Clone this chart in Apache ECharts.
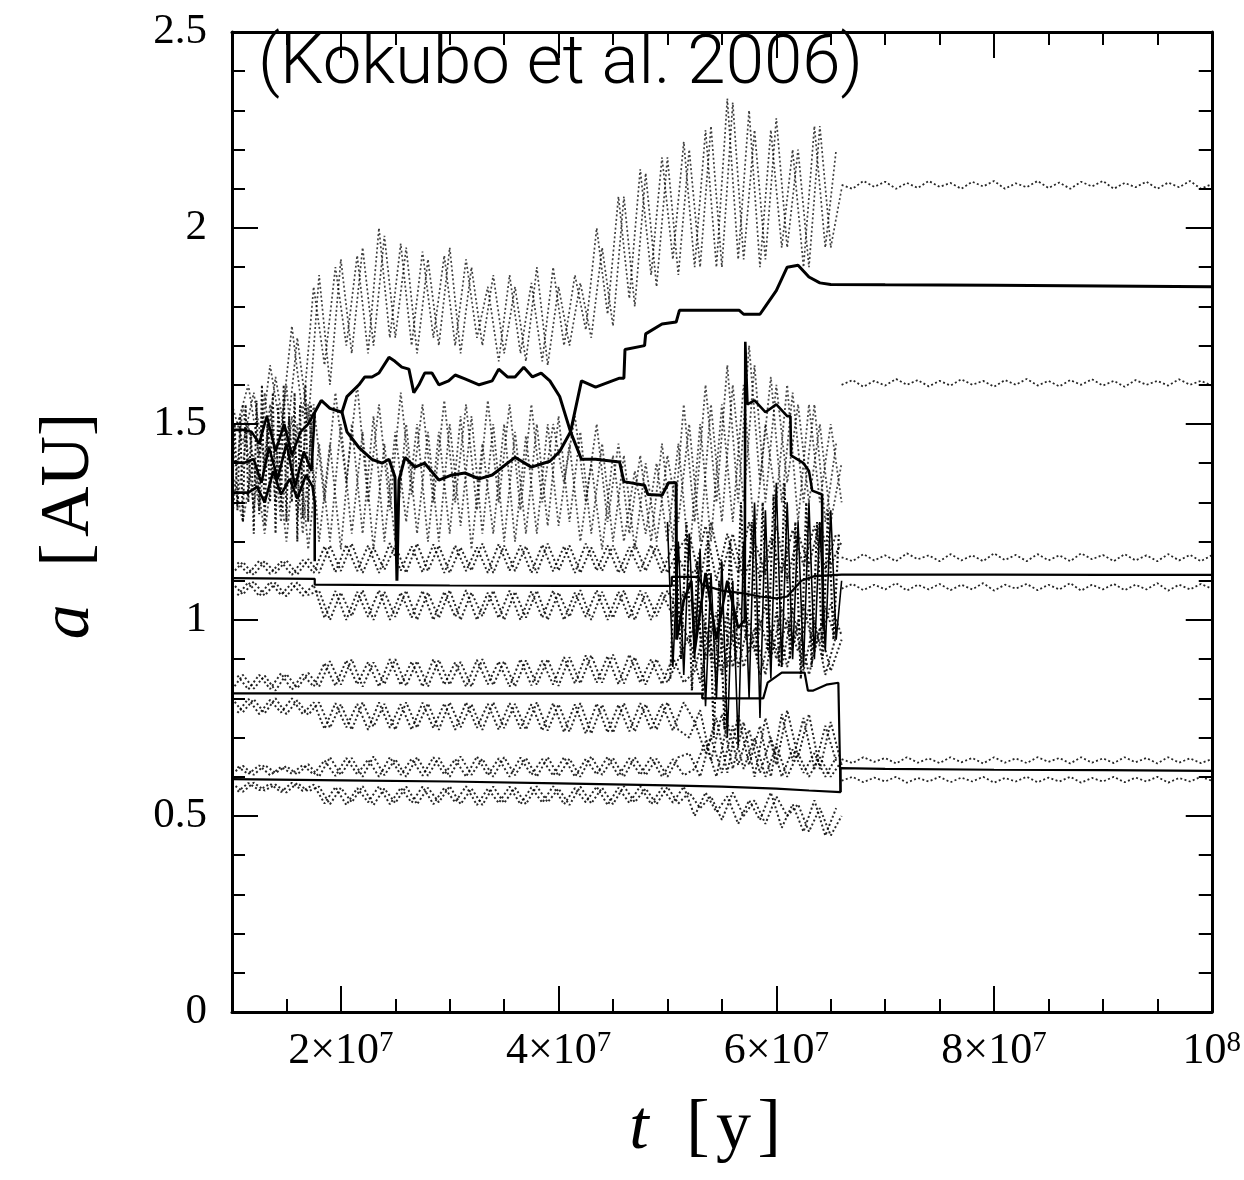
<!DOCTYPE html>
<html>
<head>
<meta charset="utf-8">
<script src="https://cdn.jsdelivr.net/npm/echarts@6/dist/echarts.min.js"></script>
<style>
html,body{margin:0;padding:0;background:#fff;}
#chart{width:1244px;height:1180px;}
</style>
</head>
<body>
<div id="chart"></div>
<script>
// Time grids in Myr (axis labels are written in years)
const tGrid = [10,11,12,13,14,15,16,17,18,19,20,21,22,23,24,25,26,27,28,29,30,31,32,33,34,35,36,37,38,39,40,41,42,43,44,45,46,47,48,49,50,51,52,53,54,55,56,57,58,59,60,61,62,63,64,65,66];
const tGridHalf = [10.5,11.5,12.5,13.5,14.5,15.5,16.5,17.5,18.5,19.5,20.5,21.5,22.5,23.5,24.5,25.5,26.5,27.5,28.5,29.5,30.5,31.5,32.5,33.5,34.5,35.5,36.5,37.5,38.5,39.5,40.5,41.5,42.5,43.5,44.5,45.5,46.5,47.5,48.5,49.5,50.5,51.5,52.5,53.5,54.5,55.5,56.5,57.5,58.5,59.5,60.5,61.5,62.5,63.5,64.5,65.5];
const tLate = [66,67,68,69,70,71,72,73,74,75,76,77,78,79,80,81,82,83,84,85,86,87,88,89,90,91,92,93,94,95,96,97,98,99,100];
const tChaos = [50,50.5,51,51.5,52,52.5,53,53.5,54,54.5,55,55.5,56,56.5,57,57.5,58,58.5,59,59.5,60,60.5,61,61.5,62,62.5,63,63.5,64,64.5,65,65.5,66];
const tChaosB = [50.25,50.75,51.25,51.75,52.25,52.75,53.25,53.75,54.25,54.75,55.25,55.75,56.25,56.75,57.25,57.75,58.25,58.75,59.25,59.75,60.25,60.75,61.25,61.75,62.25,62.75,63.25,63.75,64.25,64.75,65.25,65.75];
const tEarlyFine = [10,10.25,10.5,10.75,11,11.25,11.5,11.75,12,12.25,12.5,12.75,13,13.25,13.5,13.75,14,14.25,14.5,14.75,15,15.25,15.5,15.75,16,16.25,16.5,16.75,17,17.25,17.5];

// Pericentre / apocentre traces (dotted), before the last collision
const apoInner = [0.608,0.628,0.605,0.63,0.61,0.627,0.606,0.632,
  0.6,0.65,0.605,0.648,0.6,0.652,0.604,0.645,0.6,0.65,
  0.603,0.648,0.6,0.652,0.605,0.646,0.6,0.65,0.604,0.648,
  0.6,0.65,0.602,0.646,0.6,0.652,0.605,0.648,0.6,0.65,
  0.604,0.646,0.6,0.65,
  0.66,0.6,0.7,0.61,0.73,0.62,0.7,0.6,0.68,0.6,0.66,0.6,0.65,0.6,0.64];
const apoInnerH = [0.626,0.607,0.629,0.604,0.625,0.608,0.63,0.606,
  0.642,0.602,0.648,0.606,0.644,0.6,0.65,0.605,0.646,0.603,
  0.65,0.606,0.645,0.6,0.652,0.604,0.647,0.6,0.649,0.605,
  0.645,0.603,0.65,0.6,0.646,0.606,0.651,0.602,0.647,0.605,
  0.65,0.6,0.645,0.604,
  0.62,0.69,0.6,0.74,0.63,0.72,0.61,0.7,0.6,0.67,0.61,0.66,0.6,0.65];
const periInner = [0.583,0.562,0.585,0.565,0.58,0.56,0.584,0.563,
  0.575,0.53,0.572,0.535,0.576,0.528,0.57,0.533,0.575,0.53,
  0.572,0.535,0.576,0.53,0.57,0.528,0.575,0.533,0.572,0.53,
  0.576,0.535,0.57,0.528,0.575,0.532,0.572,0.53,0.576,0.535,
  0.57,0.53,0.574,0.532,
  0.56,0.52,0.55,0.49,0.56,0.5,0.54,0.48,0.55,0.5,0.53,0.46,0.52,0.45,0.5];
const periInnerH = [0.562,0.584,0.566,0.582,0.561,0.585,0.564,0.58,
  0.532,0.574,0.528,0.571,0.535,0.576,0.53,0.572,0.534,0.575,
  0.53,0.572,0.535,0.576,0.528,0.57,0.533,0.575,0.53,0.573,
  0.534,0.576,0.53,0.571,0.535,0.575,0.528,0.572,0.533,0.576,
  0.53,0.571,0.534,0.575,
  0.5,0.56,0.51,0.55,0.48,0.54,0.49,0.56,0.47,0.53,0.46,0.54,0.45,0.52];
const apoSecond = [0.822,0.86,0.825,0.858,0.82,0.862,0.826,0.865,
  0.83,0.895,0.835,0.9,0.83,0.892,0.836,0.9,0.832,0.895,
  0.83,0.898,0.835,0.893,0.83,0.9,0.834,0.895,0.83,0.897,
  0.835,0.9,0.832,0.905,0.838,0.91,0.84,0.912,0.838,0.905,
  0.835,0.9,0.84,0.9,
  0.96,0.84,1.0,0.86,1.02,0.88,0.98,0.86,1.02,0.88,1.0,0.86,0.98,0.87,0.95];
const apoSecondH = [0.858,0.823,0.86,0.824,0.864,0.822,0.861,0.83,
  0.89,0.832,0.897,0.836,0.893,0.83,0.9,0.834,0.894,0.83,
  0.9,0.835,0.892,0.83,0.898,0.836,0.894,0.83,0.9,0.833,
  0.896,0.835,0.905,0.838,0.91,0.84,0.908,0.836,0.912,0.84,
  0.9,0.836,0.905,0.84,
  0.87,0.99,0.86,1.02,0.88,1.0,0.86,0.97,0.88,1.03,0.87,1.0,0.86,0.96];
const periSecond = [0.8,0.765,0.798,0.762,0.8,0.76,0.795,0.758,
  0.79,0.725,0.785,0.72,0.79,0.728,0.786,0.72,0.79,0.725,
  0.787,0.72,0.79,0.726,0.785,0.72,0.79,0.724,0.786,0.72,
  0.79,0.718,0.785,0.715,0.788,0.71,0.784,0.712,0.788,0.715,
  0.785,0.72,0.79,0.72,
  0.7,0.77,0.64,0.76,0.62,0.74,0.6,0.75,0.63,0.77,0.65,0.76,0.62,0.74,0.63];
const periSecondH = [0.763,0.799,0.76,0.796,0.764,0.8,0.76,0.79,
  0.722,0.788,0.726,0.786,0.72,0.79,0.725,0.785,0.72,0.789,
  0.724,0.787,0.72,0.79,0.725,0.786,0.72,0.788,0.723,0.785,
  0.718,0.788,0.714,0.785,0.71,0.787,0.713,0.784,0.716,0.788,
  0.72,0.786,0.718,0.79,
  0.74,0.66,0.75,0.61,0.76,0.63,0.73,0.6,0.76,0.64,0.75,0.62,0.73,0.64];
const apoThird = [1.118,1.148,1.115,1.15,1.12,1.152,1.116,1.155,
  1.12,1.19,1.125,1.195,1.12,1.185,1.128,1.19,1.12,1.195,
  1.125,1.19,1.12,1.185,1.126,1.195,1.12,1.19,1.125,1.188,
  1.12,1.195,1.126,1.19,1.12,1.185,1.125,1.19,1.12,1.195,
  1.125,1.19,1.12,1.18,
  1.22,1.1,1.25,1.12,1.22,1.1,1.2,1.12,1.24,1.1,1.22,1.14,1.25,1.14,1.2];
const apoThirdH = [1.147,1.117,1.151,1.118,1.149,1.115,1.153,1.12,
  1.188,1.122,1.192,1.125,1.19,1.12,1.196,1.126,1.188,1.122,
  1.193,1.12,1.19,1.125,1.185,1.12,1.194,1.126,1.19,1.12,
  1.192,1.124,1.188,1.12,1.195,1.126,1.19,1.12,1.186,1.125,
  1.192,1.12,1.19,1.13,
  1.12,1.24,1.1,1.22,1.12,1.25,1.1,1.21,1.12,1.23,1.14,1.24,1.13,1.22];
const periThird = [1.095,1.065,1.098,1.062,1.095,1.06,1.096,1.064,
  1.075,1.0,1.07,1.01,1.076,1.0,1.072,1.008,1.075,1.0,
  1.07,1.005,1.076,1.0,1.07,1.01,1.075,1.0,1.072,1.006,
  1.075,1.0,1.07,1.008,1.076,1.0,1.072,1.005,1.075,1.0,
  1.07,1.01,1.075,1.02,
  0.94,1.05,0.9,1.03,0.88,1.0,0.92,1.04,0.9,1.0,0.92,1.03,0.94,1.04,0.96];
const periThirdH = [1.063,1.096,1.061,1.097,1.064,1.094,1.062,1.09,
  1.005,1.074,1.0,1.072,1.008,1.076,1.0,1.07,1.006,1.075,
  1.0,1.072,1.008,1.076,1.0,1.07,1.005,1.075,1.0,1.073,
  1.006,1.075,1.0,1.07,1.008,1.076,1.0,1.072,1.005,1.075,
  1.0,1.07,1.01,1.07,
  1.04,0.9,1.02,0.88,1.05,0.92,1.0,0.9,1.03,0.93,1.04,0.92,1.03,0.95];
const apoOuterA = [1.55,1.45,1.58,1.4,1.62,1.45,1.72,1.5,1.88,1.6,
  1.92,1.68,1.95,1.7,1.98,1.72,1.95,1.68,1.92,1.7,
  1.95,1.68,1.9,1.7,1.88,1.68,1.85,1.66,1.9,1.65,
  1.85,1.7,1.86,1.72,1.95,1.75,2.08,1.8,2.14,1.85,
  2.18,1.88,2.2,1.9,2.26,1.9,2.32,1.92,2.25,1.92,
  2.28,1.95,2.2,1.9,2.26,1.95,2.1];
const apoOuterB = [1.5,1.6,1.42,1.65,1.48,1.75,1.52,1.85,1.65,1.9,
  1.7,1.93,1.68,2.0,1.72,1.96,1.7,1.94,1.72,1.93,
  1.7,1.92,1.72,1.85,1.66,1.88,1.68,1.86,1.66,1.9,
  1.7,1.88,1.74,2.0,1.78,2.08,1.82,2.15,1.88,2.18,
  1.92,2.22,1.9,2.25,1.9,2.33,1.92,2.3,1.9,2.25,
  1.95,2.2,1.9,2.26,1.95,2.2];
const midA = [1.38,1.25,1.42,1.22,1.45,1.2,1.5,1.18,1.45,1.2,
  1.5,1.22,1.48,1.18,1.45,1.2,1.5,1.22,1.48,1.2,
  1.5,1.24,1.52,1.22,1.5,1.2,1.48,1.22,1.5,1.24,
  1.52,1.25,1.48,1.22,1.45,1.2,1.42,1.18,1.4,1.2,
  1.42,1.25,1.5,1.2,1.55,1.25,1.6,1.3,1.65,1.3,
  1.6,1.35,1.55,1.3,1.5,1.25,1.4];
const midB = [1.3,1.5,1.28,1.55,1.25,1.52,1.22,1.55,1.3,1.58,
  1.35,1.6,1.3,1.55,1.28,1.58,1.32,1.55,1.3,1.56,
  1.3,1.55,1.28,1.56,1.3,1.55,1.28,1.55,1.3,1.5,
  1.35,1.52,1.3,1.5,1.25,1.45,1.22,1.42,1.2,1.45,
  1.2,1.55,1.25,1.6,1.3,1.65,1.3,1.7,1.35,1.62,
  1.3,1.58,1.3,1.55,1.25,1.45];
const midC = [1.25,1.55,1.28,1.58,1.3,1.6,1.26,1.55,
  1.2,1.45,1.18,1.5,1.22,1.52,1.2,1.48,1.25,1.5,
  1.2,1.48,1.22,1.52,1.18,1.45,1.22,1.5,1.2,1.47,
  1.22,1.5,1.24,1.45,1.2,1.4,1.18,1.42,1.2,1.38,
  1.22,1.4,1.2,1.45,
  1.15,1.5,1.2,1.55,1.25,1.6,1.2,1.5,1.3,1.6,1.25,1.55,1.3,1.5,1.3];
const earlyFine = [1.3,1.5,1.28,1.52,1.25,1.55,1.3,1.48,1.22,1.56,1.27,1.6,1.24,1.5,1.3,1.58,1.22,1.55,1.28,1.6,1.25,1.52,1.3,1.58,1.2,1.55,1.26,1.6,1.25,1.55,1.3];
const chaosTrace = [1.25,0.88,1.2,0.86,1.22,0.9,1.18,0.78,1.12,0.8,1.15,0.7,1.1,0.68,1.2,0.8,1.3,0.75,1.28,0.85,1.35,0.88,1.3,0.9,1.25,0.88,1.3,0.9,1.25,0.92,1.28,0.95,1.1];
const chaosTraceB = [0.85,1.2,0.9,1.25,0.82,1.15,0.8,1.2,0.7,1.1,0.72,1.2,0.9,1.3,0.95,1.25,0.9,1.3,0.92,1.32,0.88,1.35,0.9,1.25,0.85,1.3,0.88,1.25,0.9,1.28,0.95,1.22];

// Pericentre / apocentre traces after the last collision
const apoOutLate = [2.11,2.1,2.12,2.105,2.118,2.1,2.115,2.102,2.12,2.105,
  2.115,2.1,2.118,2.106,2.12,2.1,2.114,2.104,2.12,2.102,
  2.116,2.1,2.118,2.106,2.12,2.1,2.115,2.104,2.118,2.1,
  2.116,2.104,2.12,2.1,2.112];
const periOutLate = [1.6,1.612,1.595,1.61,1.598,1.615,1.6,1.612,1.596,1.61,
  1.598,1.614,1.6,1.61,1.595,1.612,1.6,1.615,1.598,1.61,
  1.596,1.612,1.6,1.614,1.598,1.61,1.595,1.612,1.6,1.61,
  1.598,1.614,1.6,1.61,1.598];
const apoMidLate = [1.16,1.15,1.168,1.152,1.165,1.15,1.17,1.155,1.165,1.15,
  1.168,1.152,1.165,1.15,1.17,1.153,1.166,1.15,1.168,1.152,
  1.165,1.15,1.17,1.155,1.166,1.15,1.168,1.152,1.165,1.15,
  1.168,1.152,1.166,1.15,1.165];
const periMidLate = [1.08,1.092,1.076,1.09,1.078,1.094,1.075,1.09,1.078,1.092,
  1.076,1.09,1.078,1.094,1.075,1.09,1.08,1.092,1.076,1.09,
  1.078,1.094,1.075,1.09,1.078,1.092,1.076,1.09,1.078,1.094,
  1.075,1.09,1.078,1.092,1.08];
const apoInLate = [0.645,0.635,0.65,0.638,0.648,0.634,0.65,0.636,0.647,0.635,
  0.65,0.637,0.648,0.634,0.65,0.636,0.647,0.635,0.65,0.638,
  0.648,0.634,0.65,0.636,0.647,0.635,0.65,0.637,0.648,0.634,
  0.65,0.636,0.647,0.635,0.645];
const periInLate = [0.59,0.6,0.586,0.598,0.588,0.6,0.585,0.597,0.588,0.6,
  0.586,0.598,0.588,0.6,0.585,0.597,0.588,0.6,0.586,0.598,
  0.588,0.6,0.585,0.597,0.588,0.6,0.586,0.598,0.588,0.6,
  0.585,0.597,0.588,0.6,0.59];

// Semi-major axes (solid)
const tInner = [10,20,30,40,50,55,60,63,65.9,65.9,70,80,90,100];
const aInner = [0.594,0.591,0.588,0.583,0.578,0.575,0.570,0.565,0.561,0.622,0.620,0.618,0.617,0.615];
const tSecond = [10,30,50,53.2,53.2,58.8,59.2,60.5,62.6,62.9,63.4,64.6,65.7,65.9];
const aSecond = [0.813,0.812,0.812,0.812,0.800,0.800,0.84,0.866,0.866,0.82,0.82,0.835,0.84,0.561];
const tThird = [10,17.6,17.6,30,40,50.4,50.4,52.8,53.2,55,57,58.5,60,61,62.3,63.5,66,70,80,90,100];
const aThird = [1.107,1.105,1.09,1.088,1.087,1.087,1.11,1.11,1.09,1.075,1.068,1.06,1.055,1.06,1.10,1.112,1.116,1.116,1.116,1.115,1.115];
const tEarly1 = [10,11,11.8,12.5,13.2,14,14.8,15.5,16.3,17,17.6];
const aEarly1 = [1.485,1.485,1.48,1.45,1.52,1.43,1.5,1.42,1.48,1.5,1.53];
const tEarly2 = [10,11,12,12.7,13.4,14.2,15,15.8,16.6,17.3,17.6];
const aEarly2 = [1.405,1.40,1.41,1.35,1.44,1.36,1.45,1.34,1.43,1.38,1.53];
const tEarly3 = [10,11.5,12.3,13,13.8,14.5,15.3,16,16.8,17.4,17.6,17.6];
const aEarly3 = [1.325,1.325,1.34,1.30,1.38,1.32,1.36,1.31,1.37,1.34,1.30,1.15];
const tCrossA = [17.6,18.2,19,20.1,20.56,21.66,22.2,22.86,23.5,24.42,24.97,25.6,26.25,26.7,27.17,27.7,28.37,29.0,29.9,30.5,31.4,32.7,33.9,34.5,35.3,36,36.8,37.6,38.4,39.2,40.1,41.1,42.1,43.4,45.6,46.0,47.9,48.2,49.5,50.1,50.8,50.85];
const aCrossA = [1.53,1.56,1.54,1.53,1.57,1.60,1.62,1.62,1.63,1.67,1.66,1.645,1.64,1.58,1.60,1.63,1.63,1.60,1.61,1.625,1.615,1.60,1.61,1.64,1.62,1.62,1.645,1.62,1.63,1.61,1.57,1.48,1.41,1.41,1.403,1.353,1.344,1.32,1.318,1.35,1.35,0.95];
const tCrossB = [20.1,20.56,21.66,22.86,23.78,24.42,24.97,25.15,25.34,25.89,26.8,27.7,29.0,30.2,31.4,32.7,33.9,36,37.5,39.2,40.1,41.1,42.1,43.4,45.6,46.0,46.1,47.9,48.0,49.5,50.8,51.1,56.6,57,58.5,59,60,60.5,61,62,63,64,65,70,80,90,100];
const aCrossB = [1.53,1.48,1.44,1.41,1.40,1.41,1.365,1.1,1.357,1.415,1.39,1.40,1.357,1.37,1.375,1.36,1.37,1.415,1.39,1.405,1.43,1.48,1.61,1.594,1.617,1.617,1.69,1.70,1.73,1.755,1.76,1.79,1.79,1.78,1.78,1.80,1.84,1.87,1.90,1.905,1.875,1.86,1.856,1.855,1.854,1.852,1.85];
const tScattered = [50.85,51.5,52.2,52.5,53.5,54.5,55.5,56.5,57.1,57.15,57.35,58,59,60,61,61.3,61.35,62.5,63,63.3,64.2,64.3];
const aScattered = [0.95,1.05,1.1,0.92,1.12,0.95,1.1,0.98,1.0,1.71,1.55,1.56,1.53,1.55,1.52,1.52,1.42,1.40,1.38,1.33,1.32,0.98];

// Axis ticks and labels
const xMajor = [20,40,60,80,100];
const xMinor = [15,25,30,35,45,50,55,65,70,75,85,90,95];
const xLabelText = ['2×10{s|7}','4×10{s|7}','6×10{s|7}','8×10{s|7}','10{s|8}'];

const SERIF = '"Liberation Serif", "DejaVu Serif", serif';

function pairs(ts, as) { return ts.map((t, i) => [t, as[i]]); }

function dotted(ts, as, width, opacity) {
  return {
    type: 'line', data: pairs(ts, as), symbol: 'none', silent: true,
    lineStyle: { color: '#000', width: width || 2, type: [2, 2.4], opacity: opacity || 0.85 },
    animation: false, z: 2
  };
}
function solid(ts, as, width) {
  return {
    type: 'line', data: pairs(ts, as), symbol: 'none', silent: true,
    lineStyle: { color: '#000', width: width || 2.2 },
    animation: false, z: 5
  };
}

const series = [
  dotted(tGrid, apoInner), dotted(tGridHalf, apoInnerH),
  dotted(tGrid, periInner), dotted(tGridHalf, periInnerH),
  dotted(tGrid, apoSecond), dotted(tGridHalf, apoSecondH),
  dotted(tGrid, periSecond), dotted(tGridHalf, periSecondH),
  dotted(tGrid, apoThird), dotted(tGridHalf, apoThirdH),
  dotted(tGrid, periThird), dotted(tGridHalf, periThirdH),
  dotted(tGrid, apoOuterA, 1.7, 0.75), dotted(tGridHalf, apoOuterB, 1.7, 0.75),
  dotted(tGrid, midA, 1.8, 0.7), dotted(tGridHalf, midB, 1.8, 0.7), dotted(tGrid, midC, 1.8, 0.7),
  dotted(tEarlyFine, earlyFine, 2, 0.9),
  dotted(tChaosB, chaosTraceB, 2.2, 0.95),
  dotted(tLate, apoOutLate, 1.8), dotted(tLate, periOutLate, 1.8),
  dotted(tLate, apoMidLate, 1.8), dotted(tLate, periMidLate, 1.8),
  dotted(tLate, apoInLate, 1.8), dotted(tLate, periInLate, 1.8),
  solid(tChaos, chaosTrace, 1.6),
  solid(tInner, aInner), solid(tSecond, aSecond), solid(tThird, aThird),
  solid(tEarly1, aEarly1, 2.6), solid(tEarly2, aEarly2, 2.6), solid(tEarly3, aEarly3, 2.6),
  solid(tCrossA, aCrossA, 3), solid(tCrossB, aCrossB, 3), solid(tScattered, aScattered, 2.6)
];

function xAxisDef(pos, values, len, withLine, withLabels) {
  return {
    type: 'value', min: 10, max: 100, position: pos,
    axisLine: { show: withLine, onZero: false, lineStyle: { color: '#000', width: 3 } },
    axisTick: { show: true, inside: true, length: len, customValues: values, lineStyle: { color: '#000', width: 2 } },
    axisLabel: withLabels ? {
      show: true, customValues: xMajor, margin: 17, color: '#000',
      fontFamily: SERIF, fontSize: 44,
      formatter: v => xLabelText[xMajor.indexOf(Math.round(v))] || '',
      rich: { s: { fontFamily: SERIF, fontSize: 29, verticalAlign: 'top', color: '#000' } }
    } : { show: false },
    splitLine: { show: false }
  };
}
function yAxisDef(pos, withLabels) {
  return {
    type: 'value', min: 0, max: 2.5, interval: 0.5, position: pos,
    axisLine: { show: true, onZero: false, lineStyle: { color: '#000', width: 3 } },
    axisTick: { show: true, inside: true, length: 26, lineStyle: { color: '#000', width: 2 } },
    minorTick: { show: true, splitNumber: 5, length: 13, lineStyle: { color: '#000', width: 2 } },
    axisLabel: withLabels ? {
      show: true, margin: 25, color: '#000', fontFamily: SERIF, fontSize: 43,
      formatter: v => String(v)
    } : { show: false },
    splitLine: { show: false }, minorSplitLine: { show: false }
  };
}

// Axis titles: italic symbol, regular unit, gap tokens for spacing
const titleRich = {
  i: { fontFamily: SERIF, fontStyle: 'italic', fontSize: 70, fill: '#000' },
  r: { fontFamily: SERIF, fontSize: 70, fill: '#000' },
  g: { fontFamily: SERIF, fontSize: 70, fill: '#000', padding: [0, 10, 0, 10] },
  h: { fontFamily: SERIF, fontSize: 26, fill: '#000' }
};

const option = {
  backgroundColor: '#fff',
  animation: false,
  grid: { left: 232, right: 32, top: 32, bottom: 168, containLabel: false },
  xAxis: [
    xAxisDef('bottom', xMajor, 26, true, true),
    xAxisDef('bottom', xMinor, 13, false, false),
    xAxisDef('top', xMajor, 26, true, false),
    xAxisDef('top', xMinor, 13, false, false)
  ],
  yAxis: [ yAxisDef('left', true), yAxisDef('right', false) ],
  series: series,
  graphic: [
    {
      type: 'text', x: 258, y: 66, z: 20,
      style: { text: '(Kokubo et al. 2006)', fontFamily: 'Roboto, "Liberation Sans", sans-serif', fontWeight: 300, fontSize: 69, fill: '#000', verticalAlign: 'middle', textVerticalAlign: 'middle' }
    },
    {
      type: 'text', x: 70, y: 526, rotation: Math.PI / 2, z: 20,
      style: {
        text: '{i|a}{g| }{r|[}{h| }{r|AU]}', align: 'center', verticalAlign: 'middle', textAlign: 'center', textVerticalAlign: 'middle',
        rich: titleRich, fontFamily: SERIF, fontSize: 70, fill: '#000'
      }
    },
    {
      type: 'text', x: 705, y: 1130, z: 20,
      style: {
        text: '{i|t}{g| }{r|[}{h| }{r|y}{h| }{r|]}', align: 'center', verticalAlign: 'middle', textAlign: 'center', textVerticalAlign: 'middle',
        rich: titleRich, fontFamily: SERIF, fontSize: 70, fill: '#000'
      }
    }
  ]
};

const chart = echarts.init(document.getElementById('chart'), null, { renderer: 'canvas' });
chart.setOption(option);
</script>
</body>
</html>
